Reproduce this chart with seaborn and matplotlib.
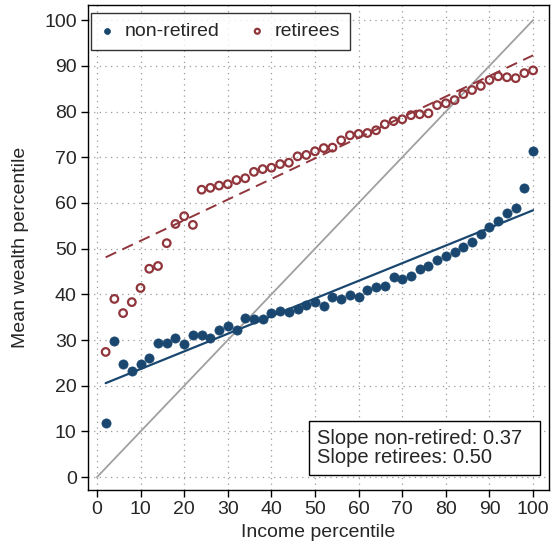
import numpy as np
import pandas as pd
import matplotlib
matplotlib.use("Agg")
import matplotlib.pyplot as plt
from matplotlib.patches import Rectangle
import seaborn as sns

income_pct = list(range(2, 101, 2))

nonretired = [11.9, 29.8, 24.8, 23.3, 24.8, 26.1, 29.4, 29.3, 30.4, 29.2,
              31.1, 31.0, 30.5, 32.3, 33.1, 32.3, 34.9, 34.7, 34.7, 36.0,
              36.3, 36.2, 36.9, 37.6, 38.3, 37.4, 39.4, 39.0, 39.8, 39.4,
              40.9, 41.6, 41.8, 43.8, 43.3, 44.0, 45.5, 46.2, 47.5, 48.4,
              49.2, 50.3, 51.4, 53.2, 54.7, 56.0, 57.8, 58.9, 63.2, 71.4]

retirees = [27.4, 39.0, 35.9, 38.3, 41.4, 45.6, 46.2, 51.2, 55.4, 57.1,
            55.2, 62.9, 63.3, 63.8, 64.1, 65.0, 65.4, 66.8, 67.4, 67.7,
            68.5, 68.8, 70.2, 70.5, 71.3, 72.0, 72.1, 73.7, 74.8, 75.1,
            75.3, 75.9, 77.2, 77.9, 78.3, 79.2, 79.4, 79.6, 81.4, 81.8,
            82.5, 83.8, 84.7, 85.6, 86.9, 87.7, 87.5, 87.3, 88.4, 89.0]

# fitted lines as drawn (intercept, slope)
fit_nonret = (19.8, 0.386)
fit_ret = (47.2, 0.451)
slope_labels = ["Slope non-retired: 0.37", "Slope retirees: 0.50"]

blue = "#1a476f"
red = "#90353b"
FS = 14

sns.set_theme(style="white")
plt.rcParams["font.family"] = ["Liberation Sans", "DejaVu Sans"]

fig = plt.figure(figsize=(5.52, 5.46), dpi=100)
ax = fig.add_axes([0.159, 0.1026, 0.836, 0.8882])

df = pd.DataFrame({"x": income_pct, "non": nonretired, "ret": retirees})
xs = np.array(income_pct, dtype=float)
df["fit_non"] = fit_nonret[0] + fit_nonret[1] * xs
df["fit_ret"] = fit_ret[0] + fit_ret[1] * xs
ref = pd.DataFrame({"x": [0, 100], "y": [0, 100]})

# 45 degree line
sns.lineplot(data=ref, x="x", y="y", ax=ax, color="#a0a0a0", lw=1.3, zorder=2)
sns.lineplot(data=df, x="x", y="fit_non", ax=ax, color=blue, lw=1.6, zorder=3)
sns.lineplot(data=df, x="x", y="fit_ret", ax=ax, color=red, lw=1.4,
             dashes=False, linestyle=(0, (6, 3.5)), zorder=3)

sns.scatterplot(data=df, x="x", y="non", ax=ax, color=blue, s=44,
                edgecolor=blue, linewidth=0.5, zorder=4, label="non-retired")
sns.scatterplot(data=df, x="x", y="ret", ax=ax, facecolor="none", s=30,
                edgecolor=red, linewidth=1.6, zorder=4, label="retirees")

ax.set_xlim(-2.1, 103.7)
ax.set_ylim(-2.8, 103.3)
ax.set_xticks(range(0, 101, 10))
ax.set_yticks(range(0, 101, 10))
ax.tick_params(axis="both", which="both", direction="out", length=5, width=1,
               color="black", labelsize=FS, pad=3, bottom=True, left=True)
ax.grid(True, linestyle=(0, (1, 3.5)), color="#9a9a9a", lw=0.9)
for sp in ax.spines.values():
    sp.set_color("black")
    sp.set_linewidth(1.0)
ax.set_xlabel("Income percentile", fontsize=FS, labelpad=4)
ax.set_ylabel("Mean wealth percentile", fontsize=FS, labelpad=11)

leg = ax.legend(loc="upper left", ncol=2, frameon=True, fontsize=FS,
                markerscale=0.65, handletextpad=0.6, columnspacing=1.65,
                borderpad=0.5, bbox_to_anchor=(0.008, 0.9835),
                fancybox=False, borderaxespad=0.0, handlelength=0.6)
leg.get_frame().set_edgecolor("black")
leg.get_frame().set_linewidth(1.0)

# annotation box
ax.add_patch(Rectangle((0.479, 0.031), 0.501, 0.111, transform=ax.transAxes,
                       facecolor="white", edgecolor="black", lw=1.0,
                       zorder=6))
ax.text(0.497, 0.0866, slope_labels[0] + "\n" + slope_labels[1],
        transform=ax.transAxes, fontsize=14.5, ha="left", va="center",
        multialignment="left", linespacing=1.0, zorder=7)

fig.savefig("out.png", dpi=100)
